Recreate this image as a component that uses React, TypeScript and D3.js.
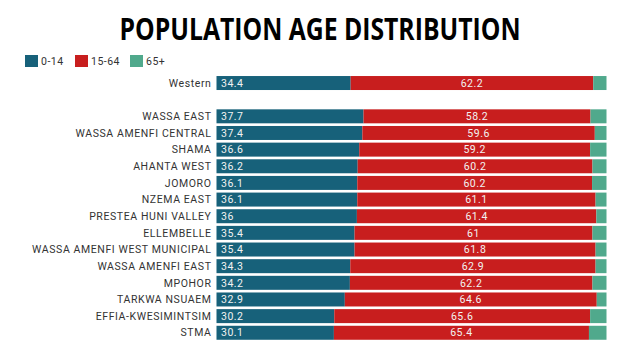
import React from "react";
import * as d3 from "d3";

const categories = [
  "Western",
  "",
  "WASSA EAST",
  "WASSA AMENFI CENTRAL",
  "SHAMA",
  "AHANTA WEST",
  "JOMORO",
  "NZEMA EAST",
  "PRESTEA HUNI VALLEY",
  "ELLEMBELLE",
  "WASSA AMENFI WEST MUNICIPAL",
  "WASSA AMENFI EAST",
  "MPOHOR",
  "TARKWA NSUAEM",
  "EFFIA-KWESIMINTSIM",
  "STMA",
];
const age0to14 = [34.4, null, 37.7, 37.4, 36.6, 36.2, 36.1, 36.1, 36, 35.4, 35.4, 34.3, 34.2, 32.9, 30.2, 30.1];
const age15to64 = [62.2, null, 58.2, 59.6, 59.2, 60.2, 60.2, 61.1, 61.4, 61, 61.8, 62.9, 62.2, 64.6, 65.6, 65.4];
const age65plus = [3.4, null, 4.1, 3.0, 4.2, 3.6, 3.7, 2.8, 2.6, 3.6, 2.8, 2.8, 3.6, 2.5, 4.2, 4.5];
const seriesNames = ["0-14", "15-64", "65+"];
const colors = ["#17617a", "#c81e1e", "#50a98c"];

export default function App() {
  const W = 640, H = 360;
  const x = d3.scaleLinear().domain([0, 100]).range([216.5, 606.5]);
  const y = d3.scaleBand<string>()
    .domain(categories.map((c, i) => String(i)))
    .range([74.7, 341.1])
    .paddingInner(0.16)
    .paddingOuter(0.08);
  const rows = categories.map((c, i) => ({ c, i, v: [age0to14[i], age15to64[i], age65plus[i]] }));
  const legendX = [25, 75, 130];
  const font = "Roboto, 'Noto Sans', sans-serif";
  return (
    <svg width={W} height={H} style={{ position: "absolute", left: 0, top: 0, background: "#fff" }}>
      <text x={320} y={40} textAnchor="middle" fontFamily="'Open Sans', sans-serif" fontWeight={700}
        fontSize={31} textLength={401} lengthAdjust="spacingAndGlyphs" fill="#000">
        POPULATION AGE DISTRIBUTION
      </text>
      {seriesNames.map((s, k) => (
        <g key={s}>
          <rect x={legendX[k]} y={55} width={13} height={12} fill={colors[k]} />
          <text x={legendX[k] + 16} y={61} dy="0.35em" fontFamily={font} fontSize={10.5} letterSpacing={0.5} fill="#333">{s}</text>
        </g>
      ))}
      {rows.filter(r => r.v[0] != null).map(r => {
        const yy = y(String(r.i))!;
        const h = y.bandwidth();
        const stack = [0, r.v[0]!, r.v[0]! + r.v[1]!, r.v[0]! + r.v[1]! + r.v[2]!];
        return (
          <g key={r.i}>
            <text x={211.5} y={yy + h / 2} dy="0.35em" textAnchor="end" fontFamily={font} fontSize={10.5} letterSpacing={0.6} fill="#333">{r.c}</text>
            {[0, 1, 2].map(k => (
              <rect key={k} x={x(stack[k])} y={yy} width={x(stack[k + 1]) - x(stack[k])} height={h} fill={colors[k]} />
            ))}
            <text x={x(0) + 4.5} y={yy + h / 2} dy="0.35em" fontFamily={font} fontSize={10.5} letterSpacing={0.5} fill="#f2f2f2">{r.v[0]}</text>
            <text x={(x(stack[1]) + x(stack[2])) / 2} y={yy + h / 2} dy="0.35em" textAnchor="middle" fontFamily={font} fontSize={10.5} letterSpacing={0.5} fill="#f2f2f2">{r.v[1]}</text>
          </g>
        );
      })}
    </svg>
  );
}
